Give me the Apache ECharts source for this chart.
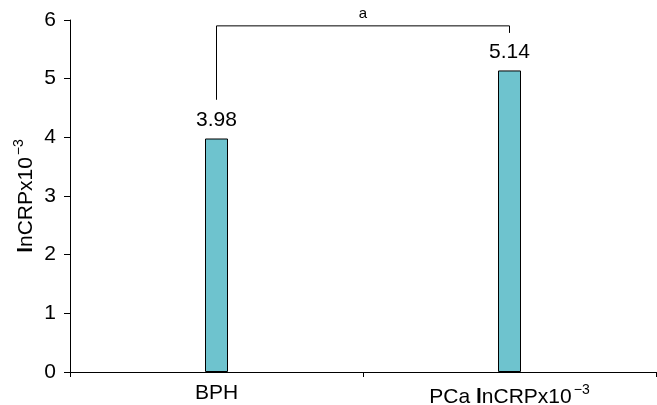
<!DOCTYPE html>
<html><head><meta charset="utf-8">
<script src="https://cdn.jsdelivr.net/npm/echarts@6/dist/echarts.min.js"></script>
<style>html,body{margin:0;padding:0;background:#fff}#c{width:657px;height:405px}</style>
</head><body><div id="c"></div>
<script>
const categories = ['BPH', 'PCa'];
const values = [3.98, 5.14];
const yTicks = [0, 1, 2, 3, 4, 5, 6];
// bracket: left leg bottom, top, right leg bottom (in data units)
const bracketLeftY = 4.64;
const bracketTopY = 5.90;
const bracketRightY = 5.78;
const bracketLabel = 'a';

const font = 'Liberation Sans, Arial, sans-serif';
const FS = 21;
const rich = {
  b: {fontSize: FS, fontWeight: 'bold', fontFamily: font, color: '#000'},
  t: {fontSize: FS, fontFamily: font, color: '#000'},
  sup: {fontSize: 14, padding: [0, 0, 14, 2], fontFamily: font, color: '#000'}
};
const chart = echarts.init(document.getElementById('c'));
chart.setOption({
  animation: false,
  grid: {left: 70, right: 1, top: 20, bottom: 33, outerBoundsMode: 'none'},
  xAxis: {
    type: 'category', data: categories,
    axisLine: {lineStyle: {color: '#000', width: 1}},
    axisTick: {show: true, length: 5, lineStyle: {color: '#000'}},
    axisLabel: {
      color: '#000', fontSize: FS, fontFamily: font, margin: 11, interval: 0, hideOverlap: false,
      formatter: v => v === 'PCa' ? '{t|PCa }{b|l}{t|nCRPx10}{sup|−3}' : '{t|' + v + '}',
      rich: rich
    }
  },
  yAxis: {
    type: 'value', min: 0, max: 6, interval: 1,
    name: '{b|l}{t|nCRPx10}{sup|−3}', nameLocation: 'middle', nameGap: 30, nameRotate: 90,
    nameMoveOverlap: false,
    nameTextStyle: {color: '#000', fontSize: FS, fontFamily: font, rich: rich},
    axisLine: {show: true, lineStyle: {color: '#000', width: 1}},
    axisTick: {show: true, length: 6, lineStyle: {color: '#000'}},
    splitLine: {show: false},
    axisLabel: {color: '#000', fontSize: FS, fontFamily: font, margin: 14,
      formatter: v => yTicks.includes(v) ? String(v) : ''}
  },
  series: [
    {
      type: 'bar', data: values, barWidth: 23,
      itemStyle: {color: '#6EC3CE', borderColor: '#000', borderWidth: 1},
      label: {show: true, position: 'top', distance: 8, color: '#000', fontSize: FS, fontFamily: font,
        formatter: p => p.value.toFixed(2)}
    },
    {
      type: 'custom',
      data: [[0, 1, bracketLeftY, bracketTopY, bracketRightY]],
      renderItem: (params, api) => {
        const pL = api.coord([api.value(0), api.value(2)]);
        const pTL = api.coord([api.value(0), api.value(3)]);
        const pTR = api.coord([api.value(1), api.value(3)]);
        const pR = api.coord([api.value(1), api.value(4)]);
        return {
          type: 'group',
          children: [
            {type: 'polyline', shape: {points: [pL, pTL, pTR, pR]},
              style: {stroke: '#000', lineWidth: 1, fill: null}},
            {type: 'text', style: {text: bracketLabel, x: (pTL[0] + pTR[0]) / 2, y: pTL[1] - 5,
              align: 'center', verticalAlign: 'bottom', fill: '#000', fontSize: 15, fontFamily: font}}
          ]
        };
      }
    }
  ]
});
</script></body></html>
